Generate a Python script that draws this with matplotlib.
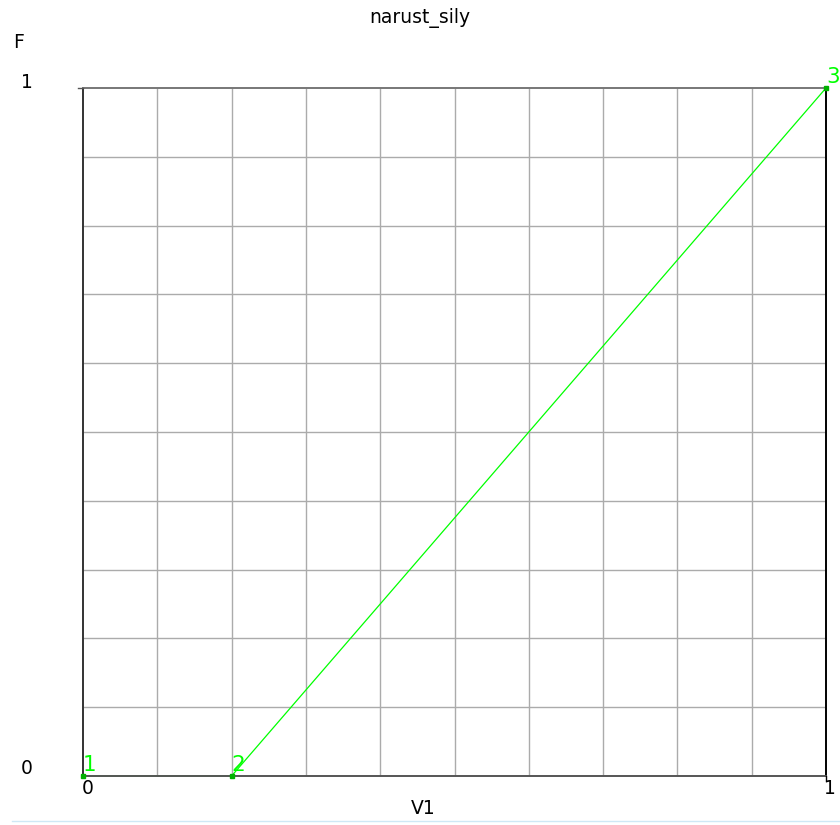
import matplotlib
matplotlib.use("Agg")
import matplotlib.pyplot as plt
from matplotlib.lines import Line2D

# membership curve points
v1 = [0.0, 0.2, 1.0]
force = [0.0, 0.0, 1.0]
point_labels = ["1", "2", "3"]

title = "narust_sily"
x_name = "V1"
y_name = "F"

GREEN = "#00ff00"

fig = plt.figure(figsize=(8.4, 8.25), dpi=100)
ax = fig.add_axes([83 / 840, 49 / 825, 743 / 840, 688 / 825])
ax.set_xlim(0, 1)
ax.set_ylim(0, 1)

# 10 x 10 grid
for i in range(1, 10):
    ax.axvline(i / 10, color="#ababab", lw=1.0, zorder=1)
    ax.axhline(i / 10, color="#ababab", lw=1.0, zorder=1)

ax.set_xticks([])
ax.set_yticks([])
ax.spines["left"].set_color("#333333")
ax.spines["bottom"].set_color("#555555")
ax.spines["top"].set_color("#777777")
ax.spines["right"].set_color("#000000")
for s in ax.spines.values():
    s.set_linewidth(1.4)
    s.set_zorder(5)

ax.plot(v1, force, color=GREEN, lw=0.9, zorder=3, clip_on=False)
ax.plot(v1, force, ls="none", marker="s", ms=2.2, color="#00b000", zorder=6, clip_on=False)
for x, y, t in zip(v1, force, point_labels):
    ax.annotate(t, (x, y), xytext=(0, 1), textcoords="offset points",
                color=GREEN, fontsize=15.5, ha="left", va="bottom",
                annotation_clip=False)

# small corner ticks
fig.add_artist(Line2D([78 / 840, 83 / 840], [737 / 825, 737 / 825], color="#555555", lw=1))
fig.add_artist(Line2D([826 / 840, 826 / 840], [44 / 825, 49 / 825], color="#000000", lw=1))

fs = 13.5
fig.text(420 / 840, 1 - 18 / 825, title, ha="center", va="center", fontsize=fs)
fig.text(19 / 840, 1 - 42 / 825, y_name, ha="center", va="center", fontsize=fs)
fig.text(27 / 840, 1 - 82 / 825, "1", ha="center", va="center", fontsize=fs)
fig.text(27 / 840, 1 - 769 / 825, "0", ha="center", va="center", fontsize=fs)
fig.text(88 / 840, 1 - 789 / 825, "0", ha="center", va="center", fontsize=fs)
fig.text(830 / 840, 1 - 788 / 825, "1", ha="center", va="center", fontsize=fs)
fig.text(423 / 840, 1 - 808 / 825, x_name, ha="center", va="center", fontsize=fs)

# thin separator at the bottom
fig.add_artist(Line2D([12 / 840, 1.0], [1 - 821 / 825, 1 - 821 / 825], color="#cfe8f5", lw=1))

fig.savefig("out.png", dpi=100)
